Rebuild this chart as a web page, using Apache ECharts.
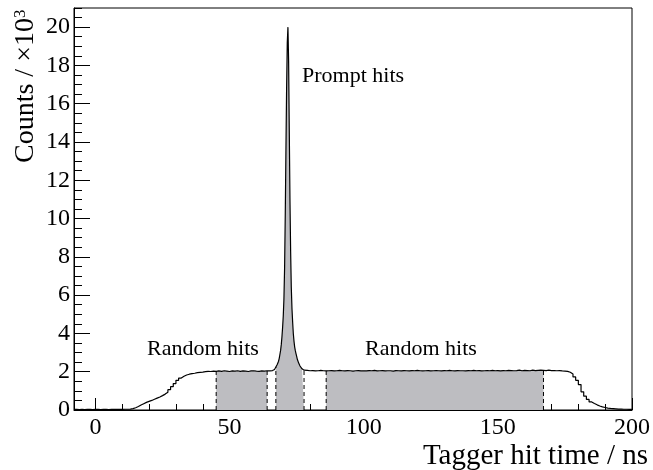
<!DOCTYPE html>
<html><head><meta charset="utf-8">
<script src="https://cdn.jsdelivr.net/npm/echarts@6/dist/echarts.min.js"></script>
<style>html,body{margin:0;padding:0;background:#fff}#c{width:653px;height:470px}</style>
</head><body><div id="c"></div>
<script>
// ---- tick labels ----
const xTickLabels = [0, 50, 100, 150, 200];
const yTickLabels = [0, 2, 4, 6, 8, 10, 12, 14, 16, 18, 20];

// ---- histogram (counts in units of 10^3) ----
// coarse 1 ns bins, low edges -8 .. 65
const lowStart = -8, lowWidth = 1;
const lowCounts = [
  0.03,0.02,0.03,0.02,0.03,0.03,0.02,0.03,
  0.03,0.02,0.03,0.03,0.02,0.03,0.03,0.03,0.04,0.03,0.04,0.04,
  0.05,0.07,0.12,0.18,0.26,0.33,0.40,0.45,0.50,0.56,0.62,0.68,0.75,0.83,0.93,1.06,1.22,1.38,1.55,1.67,1.76,1.83,1.87,1.90,1.92,1.95,1.97,1.98,2.00,2.02,2.01,2.03,2.02,
  2.04,2.02,2.05,2.03,2.01,2.04,2.03,2.05,2.02,2.04,2.03,2.01,2.04,2.05,2.03,2.02,2.04,2.03,2.05,2.04,2.06
];
// fine 0.25 ns bins around the prompt peak, low edges 66 .. 77.75
const peakStart = 66, peakWidth = 0.25;
const peakCounts = [
  2.08,2.10,2.12,2.15, 2.20,2.25,2.30,2.38, 2.45,2.55,2.70,2.90, 3.10,3.40,3.80,4.30,
  4.90,5.80,7.40,10.2, 13.6,16.8,19.2,20.0, 18.2,14.6,11.0,8.3, 6.4,5.3,4.6,4.0,
  3.6,3.3,3.1,2.95, 2.80,2.65,2.55,2.45, 2.38,2.30,2.25,2.20, 2.15,2.12,2.10,2.08
];
// coarse 1 ns bins, low edges 78 .. 199
const highStart = 78, highWidth = 1;
const highCounts = [
  2.07,2.05,2.06,2.04,2.05,2.07,2.05,2.04,
  2.05,2.06,2.04,2.05,2.07,2.05,2.04,2.06,2.05,2.03,
  2.05,2.06,2.04,2.05,2.04,2.06,2.05,2.07,2.04,2.05,
  2.06,2.04,2.05,2.05,2.03,2.06,2.05,2.04,2.06,2.05,
  2.04,2.06,2.05,2.07,2.05,2.04,2.05,2.06,2.04,2.05,
  2.06,2.05,2.04,2.06,2.05,2.07,2.05,2.04,2.06,2.05,
  2.05,2.04,2.06,2.05,2.07,2.05,2.06,2.04,2.05,2.06,
  2.05,2.07,2.05,2.06,2.04,2.06,2.05,2.07,2.06,2.05,
  2.06,2.08,2.05,2.07,2.06,2.05,2.08,2.06,2.07,2.08,
  2.07,2.06,2.08,2.06,
  2.06,2.05,2.06,2.04,2.03,2.02,1.97,1.88,1.73,1.55,
  1.33,0.95,0.72,0.55,0.42,0.34,0.27,0.21,0.16,0.13,
  0.10,0.08,0.07,0.06,0.05,0.05,0.04,0.04,0.03,0.03
];

// selection windows (ns): random, prompt, random
const windowEdges = [[45, 64], [67.25, 77.75], [86, 167]];

// annotations
const annotations = ['Random hits', 'Prompt hits', 'Random hits'];

// ---- build bins ----
const bins = [];
function addBins(start, width, counts) {
  counts.forEach((v, i) => bins.push({lo: start + i * width, hi: start + (i + 1) * width, v: v}));
}
addBins(lowStart, lowWidth, lowCounts);
addBins(peakStart, peakWidth, peakCounts);
addBins(highStart, highWidth, highCounts);

function valueAt(x) {
  for (const b of bins) if (x >= b.lo - 1e-9 && x < b.hi - 1e-9) return b.v;
  return bins[bins.length - 1].v;
}
const stairs = [];
bins.forEach(b => { stairs.push([b.lo, b.v]); stairs.push([b.hi, b.v]); });

function clipStairs(a, c) {
  const out = [];
  bins.forEach(b => {
    const lo = Math.max(b.lo, a), hi = Math.min(b.hi, c);
    if (hi > lo) { out.push([lo, b.v]); out.push([hi, b.v]); }
  });
  return out;
}

const FONT = 'Liberation Serif';
const series = [];
windowEdges.forEach(w => {
  series.push({type: 'line', data: clipStairs(w[0], w[1]), showSymbol: false, silent: true,
    lineStyle: {width: 0}, areaStyle: {color: '#bdbdc1', opacity: 1}, z: 1});
});
series.push({type: 'line', data: stairs, showSymbol: false, silent: true,
  lineStyle: {color: '#000', width: 1.2}, z: 3});
windowEdges.forEach(w => {
  [[w[0], valueAt(w[0])], [w[1], valueAt(w[1] - 1e-6)]].forEach(p => {
    series.push({type: 'line', data: [[p[0], 0], [p[0], p[1]]], showSymbol: false, silent: true,
      lineStyle: {color: '#000', width: 1, type: [4, 3]}, z: 4});
  });
});

const xMinor = [], yMinor = [];
for (let v = 10; v < 200; v += 10) if (v % 50) xMinor.push(v);
for (let v = 0.5; v <= 21; v += 0.5) if (v % 2) yMinor.push(v);

const chart = echarts.init(document.getElementById('c'), null, {renderer: 'canvas'});
chart.setOption({
  animation: false,
  backgroundColor: '#fff',
  grid: {left: 74, right: 21, top: 8, bottom: 60, show: true, borderColor: '#000', borderWidth: 1, containLabel: false},
  xAxis: [
    {type: 'value', min: -8, max: 200, position: 'bottom',
      axisLine: {show: true, onZero: false, lineStyle: {color: '#000', width: 1}},
      axisTick: {show: true, inside: true, length: 12, customValues: xTickLabels, lineStyle: {color: '#000'}},
      axisLabel: {customValues: xTickLabels, fontSize: 24, fontFamily: FONT, color: '#000', margin: 6},
      splitLine: {show: false}},
    {type: 'value', min: -8, max: 200, position: 'bottom',
      axisLine: {show: false, onZero: false},
      axisTick: {show: true, inside: true, length: 6, customValues: xMinor, lineStyle: {color: '#000'}},
      axisLabel: {show: false}, splitLine: {show: false}}
  ],
  yAxis: [
    {type: 'value', min: 0, max: 21, position: 'left',
      axisLine: {show: true, onZero: false, lineStyle: {color: '#000', width: 1}},
      axisTick: {show: true, inside: true, length: 16, customValues: yTickLabels, lineStyle: {color: '#000'}},
      axisLabel: {customValues: yTickLabels, fontSize: 24, fontFamily: FONT, color: '#000', margin: 4},
      splitLine: {show: false}},
    {type: 'value', min: 0, max: 21, position: 'left',
      axisLine: {show: false, onZero: false},
      axisTick: {show: true, inside: true, length: 8, customValues: yMinor, lineStyle: {color: '#000'}},
      axisLabel: {show: false}, splitLine: {show: false}}
  ],
  series: series,
  graphic: [
    {type: 'text', left: 147, top: 338, silent: true,
      style: {text: annotations[0], font: '22px "Liberation Serif"', fill: '#000'}},
    {type: 'text', left: 302, top: 65, silent: true,
      style: {text: annotations[1], font: '22px "Liberation Serif"', fill: '#000'}},
    {type: 'text', left: 365, top: 338, silent: true,
      style: {text: annotations[2], font: '22px "Liberation Serif"', fill: '#000'}},
    {type: 'text', x: 648, y: 442, silent: true,
      style: {text: 'Tagger hit time / ns', font: '29px "Liberation Serif"', fill: '#000', align: 'right', verticalAlign: 'top'}},
    {type: 'text', x: 40, y: 163, rotation: Math.PI / 2, silent: true,
      style: {text: '{a|Counts / ×10}{b|3}', align: 'left', verticalAlign: 'bottom', fill: '#000',
        rich: {a: {fontSize: 28, fontFamily: FONT, fill: '#000', lineHeight: 28},
               b: {fontSize: 17, fontFamily: FONT, fill: '#000', verticalAlign: 'top'}}}}
  ]
});
</script>
</body></html>
